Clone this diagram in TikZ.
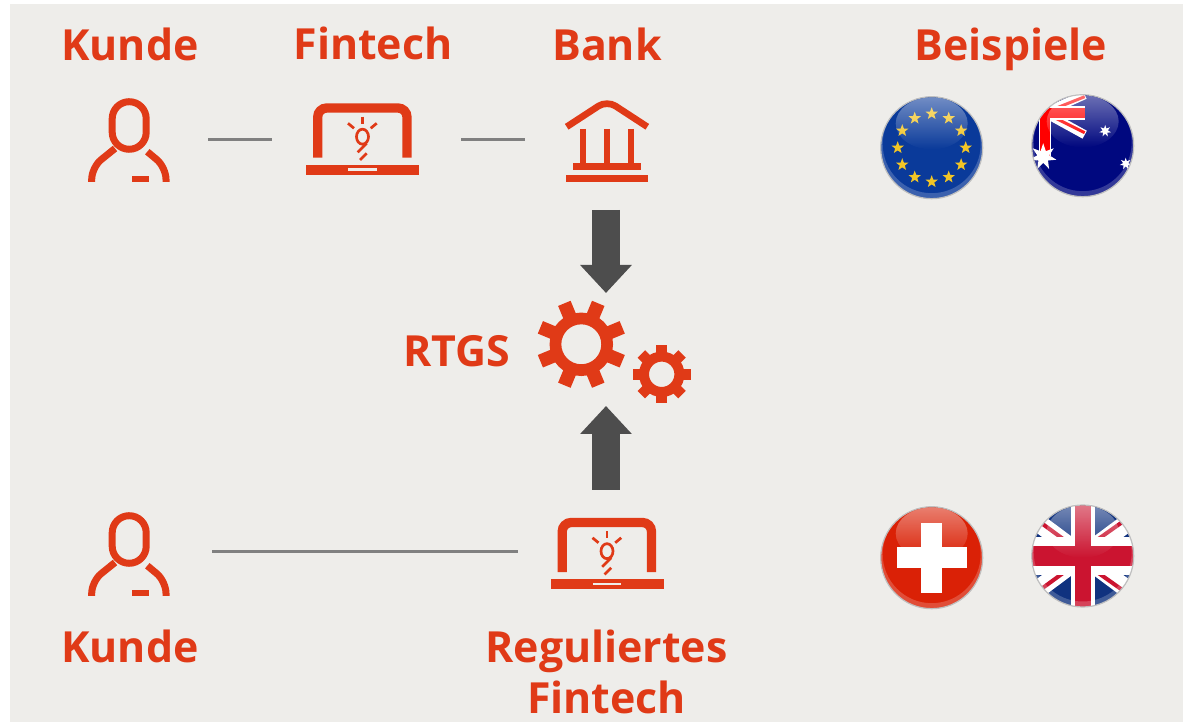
\documentclass[tikz,border=0pt]{standalone}
\usepackage{fontspec}
\setmainfont{Open Sans}
\usepackage{tikz}
\usetikzlibrary{arrows.meta,shapes.geometric,fadings}
\definecolor{sbred}{HTML}{E03A17}
\definecolor{sbbg}{HTML}{EEEDEA}
\definecolor{sbline}{HTML}{808080}
\definecolor{sbarrow}{HTML}{4D4D4D}
\definecolor{eublue}{HTML}{0A3A9A}
\definecolor{eustarc}{HTML}{F2C526}
\definecolor{aublue}{HTML}{00087F}
\definecolor{chred}{HTML}{DA2106}
\definecolor{ukblue}{HTML}{10327F}
\definecolor{ukred}{HTML}{CB1430}
\tikzset{
    title/.style={text=sbred,font=\fontsize{12.2}{14.2}\selectfont\bfseries,anchor=base,inner sep=0pt},
    iconbox/.style={inner sep=0pt,outer sep=0pt,minimum height=0.2cm},
    thinline/.style={draw=sbline,line width=0.3mm},
    flow/.style={draw=sbarrow,line width=2.8mm,-{Triangle[width=5mm,length=2.8mm]}},
    icon/.style={draw=sbred,fill=none,line join=miter},
    eustar/.style={star,star points=5,star point ratio=2.4,fill=eustarc,inner sep=0pt,minimum size=0.13cm},
    austar/.style={star,fill=white,inner sep=0pt},
    flagrim/.style={draw=gray!50,line width=0.12mm}
}
\newcommand{\personicon}{
\draw [icon,line width=0.7mm,rounded corners=1.7mm] (-0.17,-0.103) rectangle (0.17,0.373);
\draw [icon,line width=0.7mm,rounded corners=1.2mm] (-0.142,-0.095) -- (-0.375,-0.283) -- (-0.375,-0.43);
\draw [icon,line width=0.7mm,rounded corners=1.2mm] (0.181,-0.127) -- (0.368,-0.283) -- (0.368,-0.43);
\fill [sbred] (0.031,-0.367) rectangle (0.201,-0.433);
}
\newcommand{\laptopicon}{
\draw [icon,line width=0.93mm,rounded corners=0.9mm] (-0.448,-0.187) -- (-0.448,0.31) -- (0.445,0.31) -- (0.445,-0.187);
\fill [sbred] (-0.565,-0.26) rectangle (0.565,-0.357);
\fill [sbbg] (-0.142,-0.293) rectangle (0.142,-0.317);
\draw [icon,line width=0.27mm] (0,0.023) ellipse (0.06cm and 0.075cm);
\draw [icon,line width=0.27mm] (0.042,-0.043) -- (-0.048,-0.133);
\draw [icon,line width=0.27mm] (0.042,-0.143) -- (-0.025,-0.21);
\draw [icon,line width=0.27mm] (0,0.223) -- (0,0.15);
\draw [icon,line width=0.27mm] (-0.145,0.157) -- (-0.085,0.107);
\draw [icon,line width=0.27mm] (0.142,0.157) -- (0.082,0.107);
}
% #1 x, #2 y, #3 ring radius, #4 ring width, #5 tooth start, #6 tooth tip, #7 tooth width, #8 first angle
\newcommand{\gearicon}[8]{
\draw [icon,line width=#4] (#1,#2) circle (#3);
\foreach \a in {0,45,...,315}
    \draw [icon,line width=#7] (#1,#2) ++(\a+#8:#5) -- ++(\a+#8:#6-#5);
}
\newcommand{\flaggloss}{
\path [fill=white,fill opacity=0.2,even odd rule] (0,0) circle (0.51) (0,0.035) circle (0.49);
\path [fill=white,path fading=south,fill opacity=0.42] (0,0.243) ellipse (0.36cm and 0.26cm);
\draw [flagrim] (0,0) circle (0.51);
}
\begin{document}
\begin{tikzpicture}
\useasboundingbox (0,0.01) rectangle (11.83,7.23);
\fill [sbbg] (0.1,0.01) rectangle (11.83,7.19);

% upper row
\node [title] (kundeT) at (1.30,6.62) {Kunde};
\node [title] (fintechT) at (3.73,6.63) {Fintech};
\node [title] (bankT) at (6.07,6.62) {Bank};
\node [title] (beispieleT) at (10.11,6.62) {Beispiele};
\node [iconbox,minimum width=1.58cm] (kundeA) at (1.29,5.83) {};
\node [iconbox,minimum width=1.89cm] (fintechA) at (3.665,5.83) {};
\node [iconbox,minimum width=1.62cm,minimum height=1.4cm] (bankA) at (6.06,5.83) {};
\draw [thinline] (kundeA) -- (fintechA);
\draw [thinline] (fintechA) -- (bankA);
\begin{scope}[shift={(1.292,5.84)}] \personicon \end{scope}
\begin{scope}[shift={(3.625,5.84)}] \laptopicon \end{scope}
\begin{scope}[shift={(6.07,5.845)}]
\draw [icon,line width=0.67mm,rounded corners=1mm] (-0.403,0.117) -- (0,0.38) -- (0.403,0.117);
\foreach \x in {-0.24,0,0.24}
    \draw [icon,line width=0.67mm] (\x,0.097) -- (\x,-0.28);
\fill [sbred] (-0.34,-0.243) rectangle (0.337,-0.317);
\fill [sbred] (-0.407,-0.367) rectangle (0.407,-0.433);
\end{scope}

% middle
\node [title] (rtgsT) at (4.57,3.56) {RTGS};
\node [iconbox,minimum width=0.1cm,minimum height=1.13cm] (gearsN) at (6.06,3.735) {};
\gearicon{5.813}{3.787}{0.2585cm}{1.17mm}{0.27cm}{0.443cm}{1.35mm}{22.5}
\gearicon{6.617}{3.487}{0.177cm}{1mm}{0.18cm}{0.288cm}{1.05mm}{0}

% lower row
\node [title] (kundeU) at (1.30,0.6) {Kunde};
\node [title] (regulT) at (6.065,0.6) {Reguliertes};
\node [title] (regulU) at (6.065,0.09) {Fintech};
\node [iconbox,minimum width=1.66cm] (kundeB) at (1.29,1.71) {};
\node [iconbox,minimum width=1.76cm,minimum height=1.24cm] (fintechB) at (6.06,1.71) {};
\draw [thinline] (kundeB) -- (fintechB);
\begin{scope}[shift={(1.292,1.70)}] \personicon \end{scope}
\begin{scope}[shift={(6.07,1.695)}] \laptopicon \end{scope}

\draw [flow] (bankA.south) -- (gearsN.north);
\draw [flow] (fintechB.north) -- (gearsN.south);

% EU
\begin{scope}[shift={(9.317,5.753)}]
\fill [eublue] (0,0) circle (0.51);
\foreach \a in {0,30,...,330}
    \node [eustar] (eu\a) at (\a:0.34) {};
\flaggloss
\end{scope}

% Australia
\begin{scope}[shift={(10.827,5.773)}]
\begin{scope}
\clip (0,0) circle (0.51);
\fill [aublue] (-0.51,-0.51) rectangle (0.51,0.51);
\draw [white,line width=0.9mm] (-0.38,0.33) -- (0.02,0.51);
\draw [white,line width=0.9mm] (-0.38,0.33) -- (0.02,0.11);
\draw [red,line width=0.3mm] (-0.38,0.33) -- (0.02,0.49);
\draw [red,line width=0.3mm] (-0.38,0.33) -- (0.02,0.13);
\fill [white] (-0.44,-0.1) rectangle (-0.32,0.51);
\fill [white] (-0.51,0.26) rectangle (0.02,0.4);
\fill [red] (-0.43,-0.1) rectangle (-0.33,0.51);
\fill [red] (-0.51,0.28) rectangle (0.02,0.38);
\node [austar,star points=7,star point ratio=2.2,minimum size=0.27cm] (auA) at (-0.395,-0.11) {};
\node [austar,star points=7,star point ratio=2.2,minimum size=0.12cm] (auB) at (0.225,0.147) {};
\node [austar,star points=7,star point ratio=2.2,minimum size=0.12cm] (auC) at (0.43,-0.18) {};
\end{scope}
\flaggloss
\end{scope}

% Schweiz
\begin{scope}[shift={(9.317,1.653)}]
\fill [chred] (0,0) circle (0.51);
\flaggloss
\fill [white] (-0.105,-0.35) rectangle (0.105,0.35);
\fill [white] (-0.35,-0.105) rectangle (0.35,0.105);
\end{scope}

% UK
\begin{scope}[shift={(10.827,1.67)}]
\begin{scope}
\clip (0,0) circle (0.51);
\fill [ukblue] (-0.51,-0.51) rectangle (0.51,0.51);
\draw [white,line width=1.8mm] (-0.51,-0.38) -- (0.51,0.38);
\draw [white,line width=1.8mm] (-0.51,0.38) -- (0.51,-0.38);
\draw [ukred,line width=0.4mm] (-0.51,-0.4) -- (-0.1,-0.1);
\draw [ukred,line width=0.4mm] (0.1,0.13) -- (0.51,0.42);
\draw [ukred,line width=0.4mm] (-0.51,0.4) -- (-0.1,0.1);
\draw [ukred,line width=0.4mm] (0.1,-0.13) -- (0.51,-0.42);
\fill [white] (-0.51,-0.19) rectangle (0.51,0.19);
\fill [white] (-0.12,-0.51) rectangle (0.12,0.51);
\fill [ukred] (-0.51,-0.1) rectangle (0.51,0.1);
\fill [ukred] (-0.08,-0.51) rectangle (0.08,0.51);
\end{scope}
\flaggloss
\end{scope}
\end{tikzpicture}
\end{document}
